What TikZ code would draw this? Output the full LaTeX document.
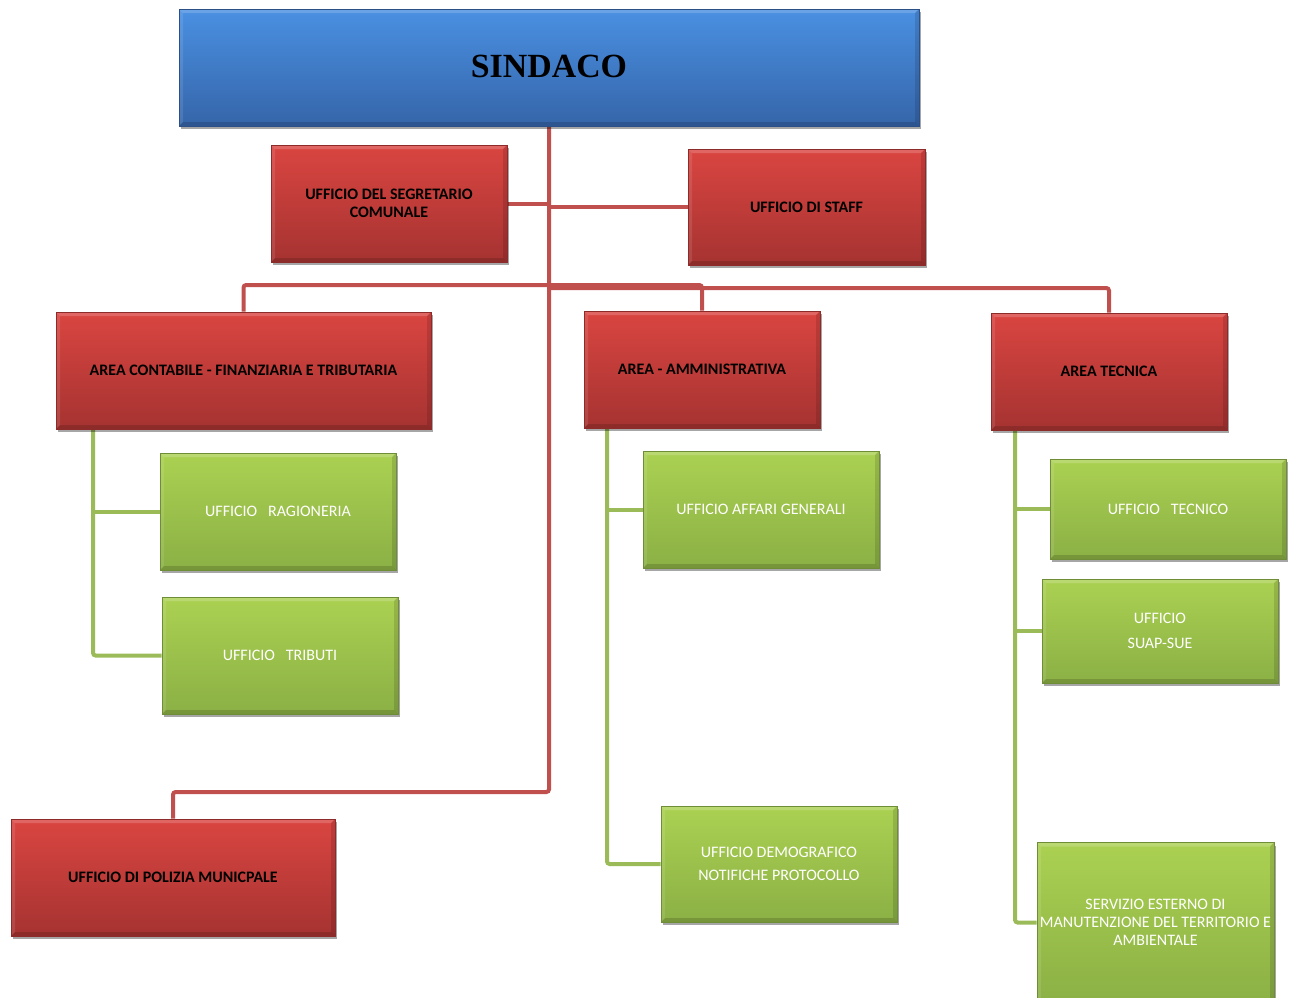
\documentclass[tikz,border=0pt]{standalone}
\usepackage{fontspec}
\setmainfont{Carlito}
\newfontfamily\titlefont{Liberation Serif}
\usetikzlibrary{shadows,backgrounds}
\definecolor{redtop}{HTML}{DA4541}
\definecolor{redbot}{HTML}{A53331}
\definecolor{rededge}{HTML}{8C2B29}
\definecolor{greentop}{HTML}{ABD152}
\definecolor{greenbot}{HTML}{8BB045}
\definecolor{greenedge}{HTML}{6F8C37}
\definecolor{bluetop}{HTML}{4A90E2}
\definecolor{bluebot}{HTML}{3565A9}
\definecolor{blueedge}{HTML}{2B5088}
\definecolor{redline}{HTML}{C0504D}
\definecolor{greenline}{HTML}{9BBB59}
\tikzset{
  bevel/.style={path picture={
    \fill[white, opacity=0.18]
      (path picture bounding box.north west) -- (path picture bounding box.north east)
      -- ([xshift=-3pt,yshift=-3pt]path picture bounding box.north east)
      -- ([xshift=3pt,yshift=-3pt]path picture bounding box.north west) -- cycle;
    \fill[white, opacity=0.10]
      (path picture bounding box.north west) -- ([xshift=3pt,yshift=-3pt]path picture bounding box.north west)
      -- ([xshift=3pt,yshift=3pt]path picture bounding box.south west)
      -- (path picture bounding box.south west) -- cycle;
    \fill[black, opacity=0.15]
      (path picture bounding box.south west) -- (path picture bounding box.south east)
      -- ([xshift=-3pt,yshift=3pt]path picture bounding box.south east)
      -- ([xshift=3pt,yshift=3pt]path picture bounding box.south west) -- cycle;
    \fill[black, opacity=0.12]
      (path picture bounding box.north east) -- ([xshift=-3pt,yshift=-3pt]path picture bounding box.north east)
      -- ([xshift=-3pt,yshift=3pt]path picture bounding box.south east)
      -- (path picture bounding box.south east) -- cycle;
  }},
  boxbase/.style={rectangle, inner sep=2pt, align=center, bevel,
    drop shadow={shadow xshift=1.5pt, shadow yshift=-2.5pt, fill=black, opacity=0.35},
    line width=0.6pt},
  redbox/.style={boxbase, top color=redtop, bottom color=redbot, draw=rededge,
    font=\fontsize{12}{13.5}\selectfont\bfseries, text=black},
  greenbox/.style={boxbase, top color=greentop, bottom color=greenbot, draw=greenedge,
    font=\fontsize{12}{13.5}\selectfont, text=white},
  bluebox/.style={boxbase, top color=bluetop, bottom color=bluebot, draw=blueedge,
    font=\fontsize{25.4}{28}\selectfont\titlefont\bfseries, text=black},
  redlink/.style={draw=redline, line width=3pt, rounded corners=2pt},
  greenlink/.style={draw=greenline, line width=3pt, rounded corners=2pt},
}
\begin{document}
\begin{tikzpicture}[x=0.75pt,y=-0.75pt]
\useasboundingbox (0,0) rectangle (1299,997);
% boxes
\node[bluebox, minimum width=555pt, minimum height=87.75pt] (sindaco) at (549,67.5) {\raisebox{1.5pt}{SINDACO}};
\node[redbox, minimum width=177pt, minimum height=87.75pt] (segr) at (389,203.5) {UFFICIO DEL SEGRETARIO\\COMUNALE};
\node[redbox, minimum width=177.75pt, minimum height=87pt] (staff) at (806.5,207) {UFFICIO DI STAFF};
\node[redbox, minimum width=281.25pt, minimum height=87.75pt] (contab) at (243.5,370.5) {AREA CONTABILE - FINANZIARIA E TRIBUTARIA};
\node[redbox, minimum width=177pt, minimum height=87.75pt] (amm) at (702,369.5) {AREA - AMMINISTRATIVA};
\node[redbox, minimum width=177pt, minimum height=87.75pt] (tecn) at (1109,371.5) {AREA TECNICA};
\node[redbox, minimum width=243pt, minimum height=87.75pt] (polizia) at (173,877.5) {UFFICIO DI POLIZIA MUNICPALE};
\node[greenbox, minimum width=177pt, minimum height=87.75pt] (ragion) at (278,511.5) {UFFICIO\ \ \ RAGIONERIA};
\node[greenbox, minimum width=177pt, minimum height=87.75pt] (tributi) at (280,655.5) {UFFICIO\ \ \ TRIBUTI};
\node[greenbox, minimum width=177pt, minimum height=87.75pt] (affari) at (761,509.5) {UFFICIO AFFARI GENERALI};
\node[greenbox, minimum width=177pt, minimum height=87pt] (demog) at (779,864) {UFFICIO DEMOGRAFICO\\[4pt]NOTIFICHE PROTOCOLLO};
\node[greenbox, minimum width=177pt, minimum height=75pt] (utecn) at (1168,509) {UFFICIO\ \ \ TECNICO};
\node[greenbox, minimum width=177pt, minimum height=78pt] (suap) at (1160,631) {UFFICIO\\[5pt]SUAP-SUE};
\node[greenbox, minimum width=177.75pt, minimum height=120pt] (serv) at (1155.5,922.5) {SERVIZIO ESTERNO DI\\MANUTENZIONE DEL TERRITORIO E\\AMBIENTALE};
% connector coordinates
\coordinate (jpol) at (549,792);
\coordinate (jleft) at (549,285);
\coordinate (jright) at (549,288);
\coordinate (gc) at (93,429);
\coordinate (ga) at (607,428);
\coordinate (gt) at (1015,430);
\begin{scope}[on background layer]
\draw[redlink] (sindaco.south) -- (jpol) -| (polizia.north);
\draw[redlink] (segr.east) -- (segr.east -| sindaco.south);
\draw[redlink] (staff.west) -- (staff.west -| sindaco.south);
\draw[redlink] (jleft) -| (contab.north);
\draw[redlink] (jleft) -| (amm.north);
\draw[redlink] (jright) -| (tecn.north);
\draw[greenlink] (gc) |- (tributi.west);
\draw[greenlink] (gc |- ragion.west) -- (ragion.west);
\draw[greenlink] (ga) |- (demog.west);
\draw[greenlink] (ga |- affari.west) -- (affari.west);
\draw[greenlink] (gt) |- (serv.west);
\draw[greenlink] (gt |- utecn.west) -- (utecn.west);
\draw[greenlink] (gt |- suap.west) -- (suap.west);
\end{scope}
\end{tikzpicture}
\end{document}
